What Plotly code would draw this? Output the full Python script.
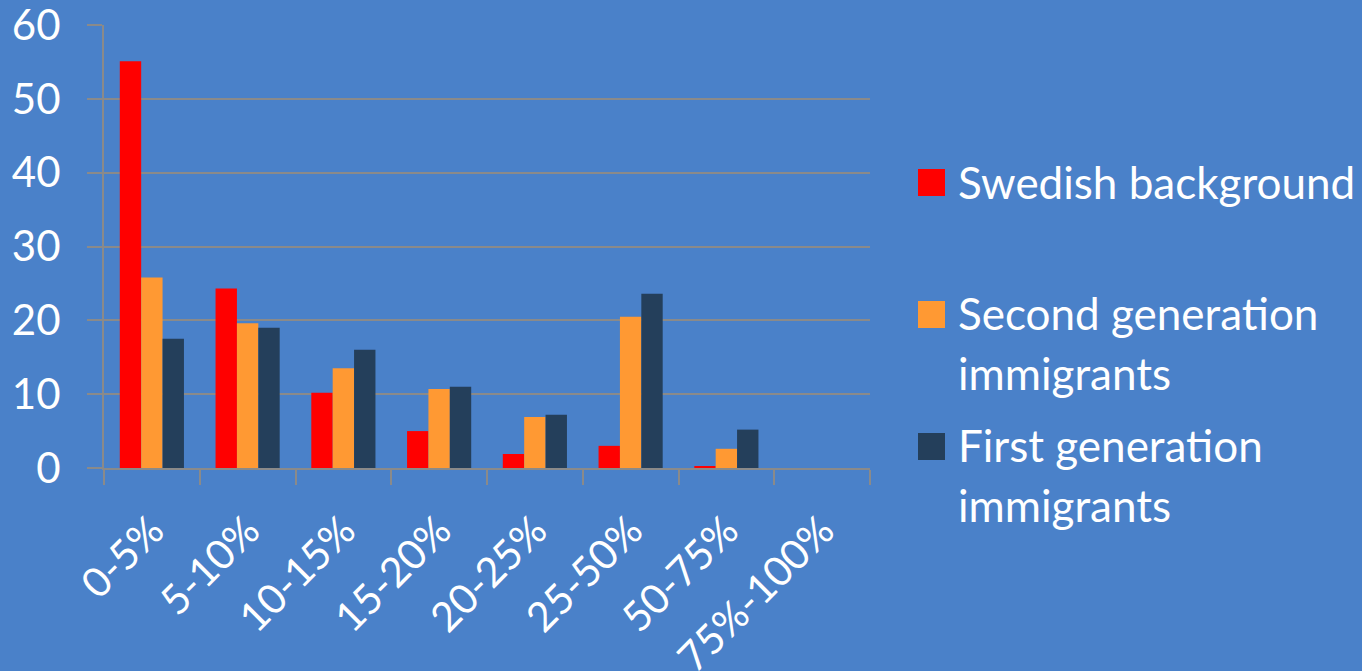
import plotly.graph_objects as go

categories = ["0-5%", "5-10%", "10-15%", "15-20%", "20-25%", "25-50%", "50-75%", "75%-100%"]
swedish = [55.1, 24.3, 10.2, 5.0, 1.9, 3.0, 0.15, 0]
second_gen = [25.8, 19.6, 13.5, 10.7, 6.9, 20.5, 2.6, 0]
first_gen = [17.5, 19.0, 16.0, 11.0, 7.2, 23.6, 5.2, 0]
series_names = ["Swedish background", "Second generation immigrants", "First generation immigrants"]
legend_lines = [["Swedish background"], ["Second generation", "immigrants"], ["First generation", "immigrants"]]
colors = ["#FF0000", "#FF9933", "#243F5B"]

BG = "#4A81C9"
GRID = "#8A8A8A"
FONT = "Lato"

W, H = 1362, 671
L, R, T, B = 104, 492, 25, 203
pw, ph = W - L - R, H - T - B


def px_x(px):
    return (px - L) / pw


def px_y(py):
    return (H - B - py) / ph


fig = go.Figure()
for name, vals, col in zip(series_names, [swedish, second_gen, first_gen], colors):
    fig.add_trace(go.Bar(x=categories, y=vals, name=name, marker=dict(color=col, line=dict(width=0))))

fig.update_layout(
    width=W, height=H,
    margin=dict(l=L, r=R, t=T, b=B, autoexpand=False),
    paper_bgcolor=BG, plot_bgcolor=BG,
    barmode="group", bargap=0.33, bargroupgap=0,
    showlegend=False,
    font=dict(family=FONT, color="white", size=40),
)
fig.update_yaxes(
    range=[0, 60], dtick=10, showgrid=True, gridcolor=GRID, gridwidth=2,
    showline=True, linecolor=GRID, linewidth=2, zeroline=False,
    ticks="outside", ticklen=15, tickcolor=GRID, tickwidth=2, ticklabelstandoff=18,
    ticklabeloverflow="allow",
    tickfont=dict(family=FONT, size=42, color="white"), automargin=False,
)
fig.update_xaxes(
    showline=True, linecolor=GRID, linewidth=2, showgrid=False,
    ticks="outside", ticklen=15, tickcolor=GRID, tickwidth=2, tickson="boundaries",
    ticklabelstandoff=20, ticklabeloverflow="allow",
    tickangle=-45, tickfont=dict(family=FONT, size=41, color="white"), automargin=False,
)

# legend drawn manually
sq_tops = [169, 301, 433]
line_centers = [[182], [313, 373], [445, 505]]
for col, top, lines, centers in zip(colors, sq_tops, legend_lines, line_centers):
    fig.add_shape(type="rect", xref="paper", yref="paper",
                  x0=px_x(918), x1=px_x(945), y0=px_y(top + 27), y1=px_y(top),
                  fillcolor=col, line=dict(width=0))
    for txt, cy in zip(lines, centers):
        fig.add_annotation(xref="paper", yref="paper", x=px_x(956), y=px_y(cy),
                           xanchor="left", yanchor="middle", text=txt, showarrow=False,
                           font=dict(family=FONT, size=44, color="white"))

fig.write_html("out.html")
